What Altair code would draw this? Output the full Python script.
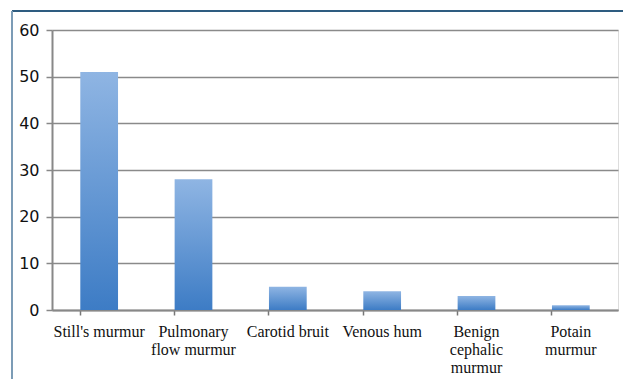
import altair as alt
import pandas as pd
import json

categories = ["Still's murmur", "Pulmonary flow murmur", "Carotid bruit",
              "Venous hum", "Benign cephalic murmur", "Potain murmur"]
values = [51, 28, 5, 4, 3, 1]
label_lines = {
    "Still's murmur": ["Still's murmur"],
    "Pulmonary flow murmur": ["Pulmonary", "flow murmur"],
    "Carotid bruit": ["Carotid bruit"],
    "Venous hum": ["Venous hum"],
    "Benign cephalic murmur": ["Benign", "cephalic", "murmur"],
    "Potain murmur": ["Potain", "murmur"],
}
y_ticks = [0, 10, 20, 30, 40, 50, 60]

df = pd.DataFrame({"cat": categories, "val": values})

W, H = 566, 280
PL, PT = 52, 30

bars = alt.Chart(df).mark_bar(
    color=alt.Gradient(
        gradient="linear",
        stops=[alt.GradientStop(color="#8fb5e3", offset=0),
               alt.GradientStop(color="#3d7cc5", offset=1)],
        x1=0, x2=0, y1=0, y2=1,
    )
).encode(
    x=alt.X("cat:N", sort=categories, title=None,
            scale=alt.Scale(paddingInner=0.6, paddingOuter=0.3),
            axis=alt.Axis(
                labelExpr=f"{json.dumps(label_lines)}[datum.value]",
                labelAngle=0, labelFont="Liberation Serif", labelFontSize=16,
                labelColor="#111", labelLineHeight=18, labelPadding=8,
                bandPosition=0, tickSize=5, tickColor="#777", tickWidth=1.5,
                domainColor="#888", domainWidth=2, grid=False,
                labelLimit=200)),
    y=alt.Y("val:Q", title=None,
            scale=alt.Scale(domain=[0, 60], nice=False),
            axis=alt.Axis(values=y_ticks, labelFont="DejaVu Sans", labelFontSize=16,
                          labelColor="#111", labelPadding=7, tickSize=6,
                          tickColor="#888", tickWidth=1.5, domainColor="#888",
                          domainWidth=2, gridColor="#8a8a8a", gridWidth=1.6)),
)

frame_top = alt.Chart(df).mark_rule(color="#2f5d80", strokeWidth=1.5).encode(
    x=alt.value(12 - PL), x2=alt.value(623 - PL), y=alt.value(11 - PT))
frame_left = alt.Chart(df).mark_rule(color="#7d9db6", strokeWidth=1.5).encode(
    x=alt.value(12 - PL), y=alt.value(11 - PT), y2=alt.value(379 - PT))

chart = alt.layer(frame_top, frame_left, bars).properties(
    width=W, height=H,
    autosize=alt.AutoSizeParams(type="none"),
    padding={"left": PL, "top": PT, "right": 623 - PL - W, "bottom": 379 - PT - H},
).configure_view(stroke=None).configure(background="white")

chart.save("out.html", embed_options={"renderer": "svg", "actions": False})
